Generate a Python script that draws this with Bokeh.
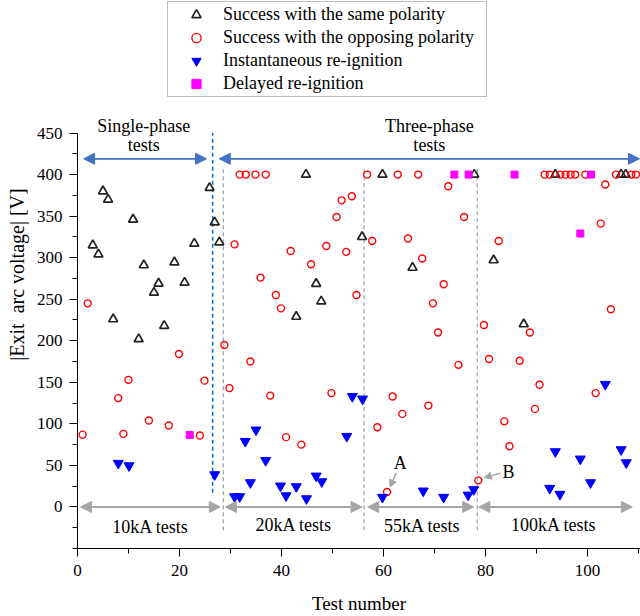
from bokeh.plotting import figure
from bokeh.models import (Legend, LegendItem, Arrow, NormalHead, Label,
                          SingleIntervalTicker, FixedTicker)
from bokeh.embed import file_html
from bokeh.resources import INLINE

# ---- data ----
same_x = [3, 4.1, 5, 6, 7, 10.9, 12, 13, 15, 15.9, 17, 19, 21, 22.9, 25.9, 26.9, 27.8,
          42.9, 44.8, 46.8, 47.8, 55.8, 59.8, 65.7, 77.8, 81.6, 87.5, 93.7, 106.6, 107.5]
same_y = [315, 304, 380, 370, 226, 346, 202, 291, 258, 269, 218, 294.5, 270, 317, 384, 342.6, 318.5,
          229, 400, 268.7, 247.5, 325, 400, 288, 400, 297, 220, 400, 400, 400]

opp_x = [1, 2, 8, 9, 10, 14, 17.9, 19.9, 24, 24.9, 28.8, 29.8, 30.8, 31.8, 33, 33.9, 34.9, 35.9,
         36.9, 37.8, 38.9, 39.9, 40.9, 41.8, 43.9, 45.8, 48.8, 49.8, 50.8, 51.8, 52.7, 53.8, 54.7,
         56.8, 57.8, 58.8, 60.7, 61.8, 62.8, 63.7, 64.8, 66.8, 67.6, 68.8, 69.7, 70.7, 71.8, 72.7,
         74.7, 75.8, 78.6, 79.7, 80.7, 82.6, 83.7, 84.7, 86.7, 88.7, 89.7, 90.6, 91.6, 92.6, 94.7,
         95.7, 96.7, 97.6, 99.6, 101.6, 102.6, 103.5, 104.6, 105.6, 108.6, 109.5]
opp_y = [87, 245, 131, 88, 153, 104, 98, 184, 86, 152, 195, 143, 316, 400, 400, 175, 400, 276,
         400, 134, 255, 239, 84, 308, 75, 292, 314, 137, 349, 369, 307, 374, 255,
         400, 320, 96, 18, 133, 400, 112, 323, 400, 299, 122, 245, 210, 268, 386,
         171, 349, 32, 219, 178, 320, 103, 73, 176, 210, 118, 147, 400, 400, 400,
         400, 400, 400, 400, 137, 341, 388, 238, 400, 400, 400]

inst_x = [8, 10.1, 26.9, 30.8, 31.8, 32.9, 33.9, 35, 36.9, 39.8, 40.9, 42.9, 44.9, 46.8, 47.9,
          52.8, 53.9, 55.9, 59.8, 67.8, 71.8, 76.6, 77.7, 92.6, 93.7, 94.6, 98.6, 100.6, 103.5,
          106.6, 107.6]
inst_y = [52.6, 49.7, 38.9, 12.4, 12.4, 79, 29.3, 92.7, 56, 25.3, 13.6, 24.5, 10, 37.3, 30.5,
          85, 133, 130, 11.7, 19.3, 11.7, 14.4, 20.9, 22.5, 66.6, 15.3, 57.8, 29.3, 147.6,
          69, 53.3]

delay_x = [22, 73.9, 76.7, 85.7, 98.6, 100.7]
delay_y = [86.6, 400, 400, 400, 329, 400]

y_major_ticks = [0, 50, 100, 150, 200, 250, 300, 350, 400, 450]
y_minor_ticks = [-50, -25, 25, 75, 125, 175, 225, 275, 325, 375, 425]
x_ticks_interval = 20

FONT = "Liberation Serif"

p = figure(width=640, height=616, x_range=(0, 110.4), y_range=(-50, 609.5),
           output_backend="svg", toolbar_location=None,
           min_border_left=77, min_border_right=0, min_border_top=0, min_border_bottom=68)
p.grid.visible = False
p.outline_line_color = None
p.background_fill_color = "white"
p.border_fill_color = "white"

# axes
p.xaxis.ticker = SingleIntervalTicker(interval=x_ticks_interval, num_minor_ticks=2)
p.yaxis.ticker = FixedTicker(ticks=y_major_ticks, minor_ticks=y_minor_ticks)
p.yaxis.bounds = (-50, 450)
p.xaxis.bounds = (0, 110.4)
for ax in (p.xaxis, p.yaxis):
    ax.axis_line_color = "black"
    ax.major_tick_line_color = "black"
    ax.minor_tick_line_color = "black"
    ax.major_tick_in = 0
    ax.major_tick_out = 8
    ax.minor_tick_in = 0
    ax.minor_tick_out = 5
    ax.major_label_text_font = FONT
    ax.major_label_text_font_size = "17px"
    ax.major_label_text_color = "black"
    ax.axis_label_text_font = FONT
    ax.axis_label_text_font_style = "normal"
    ax.axis_label_text_color = "black"
p.xaxis.axis_label = "Test number"
p.yaxis.axis_label = "|Exit\u2002arc voltage| [V]"
p.xaxis.axis_label_text_font_size = "19px"
p.yaxis.axis_label_text_font_size = "20px"
p.xaxis.major_label_standoff = 8
p.yaxis.major_label_standoff = 7
p.xaxis.axis_label_standoff = 14
p.yaxis.axis_label_standoff = 6

# section lines
GREY = "#A6A6A6"
BLUE_A = "#4472C4"
for xv in (28.6, 56.2, 78.4):
    p.line([xv, xv], [-28, 410], line_color=GREY, line_dash="4 3", line_width=1.3)
p.line([26.5, 26.5], [17, 450], line_color="#0070C0", line_dash="4 3", line_width=1.5)

# arrows
def darrow(x0, x1, y, color, lw):
    p.add_layout(Arrow(x_start=x0, y_start=y, x_end=x1, y_end=y,
                       line_color=color, line_width=lw,
                       start=NormalHead(size=11, fill_color=color, line_color=color),
                       end=NormalHead(size=11, fill_color=color, line_color=color)))

darrow(1.2, 25.3, 419, BLUE_A, 1.8)
darrow(27.8, 110.2, 419, BLUE_A, 1.8)
darrow(0.6, 28.0, 0, GREY, 2)
darrow(29.0, 55.8, 0, GREY, 2)
darrow(56.9, 77.7, 0, GREY, 2)
darrow(78.7, 108.8, 0, GREY, 2)

# small pointer arrows A and B
for (xs, ys, xe, ye) in ((62.5, 41, 61.3, 24), (82.9, 40.5, 79.8, 35.3)):
    p.add_layout(Arrow(x_start=xs, y_start=ys, x_end=xe, y_end=ye,
                       line_color=GREY, line_width=1.5,
                       end=NormalHead(size=7, fill_color=GREY, line_color=GREY)))

def lab(x, y, t, size="18px"):
    p.add_layout(Label(x=x, y=y, text=t, text_font=FONT, text_font_size=size,
                       text_align="center", text_baseline="middle", text_color="black"))

lab(13, 458.5, "Single-phase")
lab(13, 435.6, "tests")
lab(69, 458.5, "Three-phase")
lab(69, 435.6, "tests")
lab(14.3, -23.7, "10kA tests")
lab(42.4, -22, "20kA tests")
lab(67.6, -23, "55kA tests")
lab(93.4, -22, "100kA tests")
lab(63.3, 53, "A")
lab(84.5, 42, "B")

# markers
r_same = p.scatter(same_x, same_y, marker="triangle", size=9, fill_color=None,
                   line_color="#222222", line_width=1.7)
r_opp = p.scatter(opp_x, opp_y, marker="circle", size=7, fill_color=None,
                  line_color="#FF0000", line_width=1.4)
r_inst = p.scatter(inst_x, inst_y, marker="inverted_triangle", size=10, fill_color="#0000FF",
                   line_color="#0000FF")
r_del = p.scatter(delay_x, delay_y, marker="square", size=7, fill_color="#FF00FF",
                  line_color="#FF00FF")

legend = Legend(items=[
    LegendItem(label="Success with the same polarity", renderers=[r_same]),
    LegendItem(label="Success with the opposing polarity", renderers=[r_opp]),
    LegendItem(label="Instantaneous re-ignition", renderers=[r_inst]),
    LegendItem(label="Delayed re-ignition", renderers=[r_del]),
], location=(90, 451))
legend.label_text_font = FONT
legend.label_text_font_size = "18px"
legend.label_text_color = "black"
legend.glyph_width = 54
legend.glyph_height = 23
legend.label_height = 23
legend.label_standoff = 0
legend.spacing = 0
legend.padding = 1
legend.margin = 0
legend.label_width = 262
legend.border_line_color = "#7F7F7F"
legend.border_line_width = 1
legend.background_fill_color = "white"
legend.background_fill_alpha = 1
p.add_layout(legend, "center")

open("out.html", "w").write(file_html(p, INLINE))
